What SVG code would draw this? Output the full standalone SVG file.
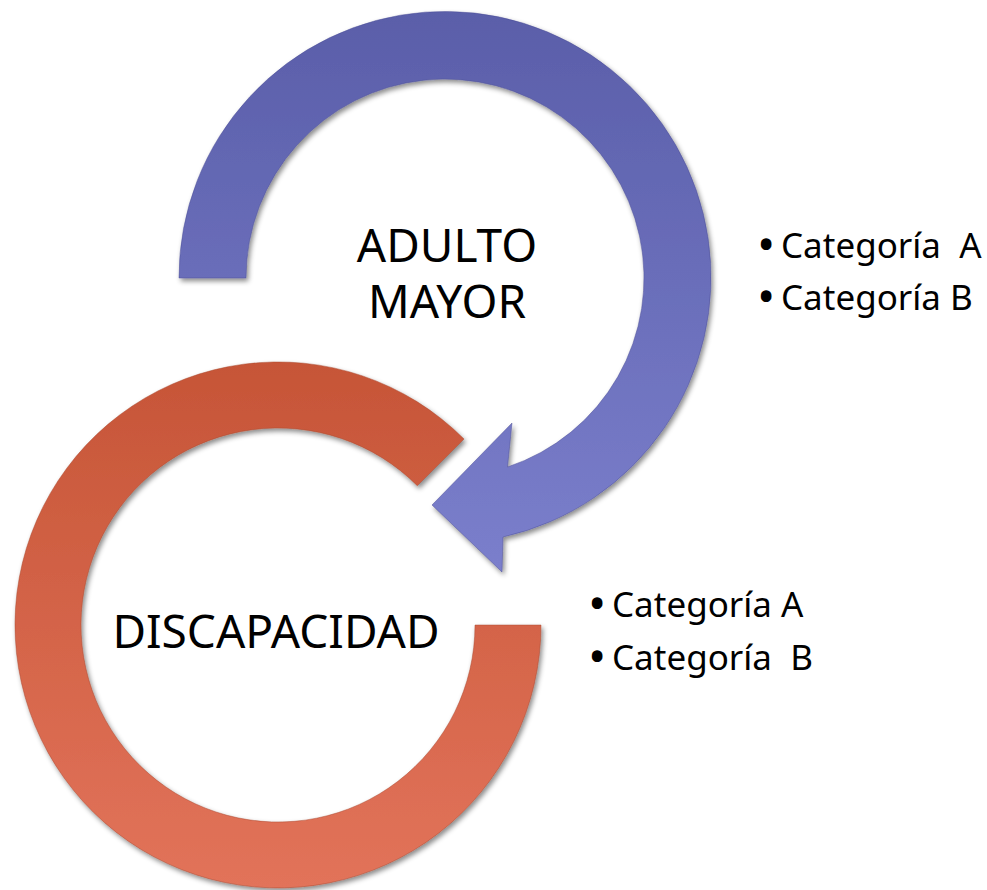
<svg xmlns="http://www.w3.org/2000/svg" width="987" height="890" viewBox="0 0 987 890">
  <style>
    .lbl { font-family: "Noto Sans", "Open Sans", "DejaVu Sans", sans-serif; fill: #000; }
    .big { font-size: 46px; text-anchor: middle; }
    .item { font-size: 35px; }
    .dot { font-weight: 700; font-size: 38px; }
  </style>
  <defs>
    <linearGradient id="gBlue" gradientUnits="userSpaceOnUse" x1="0" y1="10" x2="0" y2="575">
      <stop offset="0" stop-color="#5a5ea9"/>
      <stop offset="1" stop-color="#7b7fcc"/>
    </linearGradient>
    <linearGradient id="gRed" gradientUnits="userSpaceOnUse" x1="0" y1="360" x2="0" y2="888">
      <stop offset="0" stop-color="#c65537"/>
      <stop offset="1" stop-color="#e2735a"/>
    </linearGradient>
    <filter id="sh" x="-10%" y="-10%" width="120%" height="120%">
      <feDropShadow dx="2" dy="3" stdDeviation="2.5" flood-color="#000" flood-opacity="0.45"/>
    </filter>
  </defs>
  <rect width="987" height="890" fill="#fff"/>

  <g id="discapacidad">
    <path filter="url(#sh)" fill="url(#gRed)" stroke="#a9472e" stroke-width="0.8" stroke-opacity="0.6"
      d="M541,625 A263,263 0 1 1 464,439 L417.3,485.7 A197,197 0 1 0 475,625 Z"/>
    <text class="lbl big" x="276" y="648">DISCAPACIDAD</text>
  </g>

  <g id="adulto-mayor">
    <path filter="url(#sh)" fill="url(#gBlue)" stroke="#4b4f96" stroke-width="0.8" stroke-opacity="0.6"
      d="M179,278 A266,266 0 1 1 503,537 L502,572 L432,505 L512,423 L507.5,467 A199,199 0 1 0 246,278 Z"/>
    <text class="lbl big" x="447" y="262">ADULTO</text>
    <text class="lbl big" x="447" y="318">MAYOR</text>
  </g>

  <g id="lista-adulto">
    <text class="lbl item" x="759" y="258"><tspan class="dot">•</tspan><tspan x="781">Categoría&#160; A</tspan></text>
    <text class="lbl item" x="759" y="310"><tspan class="dot">•</tspan><tspan x="781">Categoría B</tspan></text>
  </g>

  <g id="lista-discapacidad">
    <text class="lbl item" x="590" y="617"><tspan class="dot">•</tspan><tspan x="612">Categoría A</tspan></text>
    <text class="lbl item" x="590" y="670"><tspan class="dot">•</tspan><tspan x="612">Categoría&#160; B</tspan></text>
  </g>

  <g id="connectors"></g>
</svg>
